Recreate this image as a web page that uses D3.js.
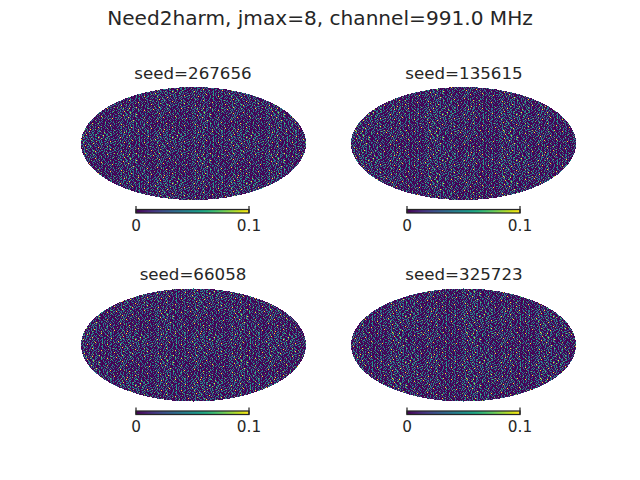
<!DOCTYPE html>
<html><head><meta charset="utf-8">
<script src="https://cdn.jsdelivr.net/npm/d3@7/dist/d3.min.js"></script>
<style>html,body{margin:0;background:#fff}svg{display:block}text{font-family:"DejaVu Sans";fill:#262626}</style>
</head><body><svg id="c" width="640" height="480"></svg>
<script>
const suptitle = "Need2harm, jmax=8, channel=991.0 MHz";
const seeds = [267656, 135615, 66058, 325723];
const colorDomain = [0, 0.1];
const colorTicks = [0, 0.1];
const tickLabels = ["0", "0.1"];
// NOTE: the map cells are NOT per-pixel readings of the reference. The swatches below were
// hand-typed to imitate the colour mix and grain seen in zoomed crops, then repeated as a
// mosaic across each map, and all four maps share them. Only texture and colour mix match.
// Each digit indexes digitValues.
const digitValues = [0, 0, 0.005, 0.03, 0.045, 0.055, 0.075, 0.085, 0.09, 0.1];
const swatchA = [
"0430510230904103100546002301040430300",
"3104026003200451014020300720025100501",
"0053204100530420103400120450300630042",
"1300430900204150460013302004500140320",
"0504301020453030400210049003300452010",
"3010703420001300450340005201064000203",
"2030140530406320010941014003520200510",
"0402530031040250410320730140504043001",
"3090102405030140351004102064003200340",
"4053034002106402103350410104042023000",
"0310450502100340270130400451020901046",
"1002702040415003021040530200620403502",
"5020430214000193040205010243030350004",
"0143000306320410304024060130401000352",
"1020509010342004100301420304105002030",
"4000310045063002530140320100703400100",
"3006040230140302010910305001400340025",
"0310042013503000240106030145204010603",
"0251030742000412030300210400503901040",
"4100340105020463014030450302100420045",
"0203040210430140920043010506012003300",
"1620053040102300432501104020304530010",
"2040109403002500140210043010340200372"];
const swatchB = [
"0502340710240910340030410520210464003",
"1034205403105001304020604120410201340",
"5020410320164010340210530400910301502",
"0140523090100340402100520103040162030",
"0304102205010473010230104002210405012",
"1060451003402060140520103040152010304",
"3010240310450204200494010302040410010",
"0153000903520430140320201045023010206",
"0214301040230150230630102040130204010",
"5040062030109402201043015010702104301",
"0230501240503040410012200430310052041",
"1504003106023040201050430106040213020",
"0200214003040200394010420300320401502",
"3014050310240106030320104052014030120",
"0160403020150430351040124030301902040",
"4210430102300403010064003021405010430",
"0103090510204250530140104203620403010",
"4003102040621040032040310204300150302",
"0240340710104041030230510310420100612",
"0501040232005109430103040163201410030",
"1020450103304010240410023052040130290",
"3040120403020650130032704010405020310",
"0104060230510300340102420301030640302"];
const swatchC = [
"1302502040610340104020910240150430300",
"5013042090305402010314020143010340102",
"0210450321203105040160302010710402305",
"0602100345013040420103351020240140420",
"3014030510240920032102010450103340010",
"0250130421300402203610140410302190300",
"1204905010460305014020341020140320104",
"0305014032102040130413050230600530402",
"5030220140510406010320150402103001420",
"1040602305003010920201340320510300062",
"0320405010324050130140060301402040300",
"2005013090310420301040202030910450103",
"0140300210104601020250140040103300240",
"0610430520203140010320540103062010305",
"1002063040130052300410040210104400120",
"4010230301040930104012043020210304631",
"0230510020420140230520120403060310104",
"1040210610305004320130902040101300510",
"0510340102010240130610320300510240103",
"0123040140610320302010250140103040092",
"3040090103300510240201300260140420210",
"1030402201304061040120130510240130031",
"0602140305012300104490102020030510420"];
const swatchD = [
"0253020430152064010302200410910430102",
"9010340510203240410125013030140120510",
"1305040206030205040130600230140312040",
"0210413020140530230020410050420103600",
"3020610240503010920140304010220405010",
"1045009030410020130502103400203100030",
"0510130402306013040060140302010620104",
"1002040505010254013200300140050320410",
"5030210340020300410130920203140020310",
"0410506030910240105020061040300120305",
"0201430302051020200310140520304409010",
"3006050140210040130230510020061040203",
"1040320410103300602201041003020510200",
"0320910240503010240050410130200140301",
"1040200060410102201043030060140302500",
"5010032010400930104702010240105012040",
"0020310500204010520300320140300130041",
"1600401302040610103040120500240903010",
"0210340300501030420103600140020310302",
"3005014020141030410920103004102050120",
"0130204600320302010240501040600130002",
"0400103050290140602300410200130040510",
"1030060240210530104040120410300210063"];
const mosaics = [
 [[swatchA,swatchC],[swatchD,swatchB]],
 [[swatchB,swatchD],[swatchA,swatchC]],
 [[swatchC,swatchA],[swatchB,swatchD]],
 [[swatchD,swatchB],[swatchC,swatchA]]];

const panels = [
 {cx:193.5, cy:143.5, tx:193, bar0:136},{cx:463.5, cy:143.5, tx:464, bar0:407},
 {cx:193.5, cy:345, tx:193, bar0:136},{cx:463.5, cy:345, tx:464, bar0:407}];
const rx = 112.5, ry = 56.5;

const svg = d3.select("#c");
svg.append("rect").attr("width",640).attr("height",480).attr("fill","#fff");
svg.append("text").attr("x",320).attr("y",25).attr("text-anchor","middle")
  .style("font-size","20.1px").text(suptitle);
const color = d3.scaleSequential(d3.interpolateViridis).domain(colorDomain);

panels.forEach((p,i)=>{
  const g = svg.append("g");
  g.append("text").attr("x",p.tx).attr("y",p.cy-65).attr("text-anchor","middle")
    .style("font-size","16.67px").text("seed="+seeds[i]);
  const mx = d3.scaleLinear().domain([-2,2]).range([p.cx-rx,p.cx+rx]);
  const my = d3.scaleLinear().domain([-1,1]).range([p.cy+ry,p.cy-ry]);
  const m = mosaics[i], rows = m[0][0].length, cols = m[0][0][0].length;
  const x0 = Math.floor(p.cx), y0 = Math.floor(p.cy);
  const paths = digitValues.map(()=>d3.path());
  for(let r=-58;r<58;r++) for(let c=-114;c<114;c++){
    const px = x0+c, py = y0+r;
    const X = mx.invert(px+.5), Y = my.invert(py+.5);
    if(X*X/4+Y*Y>1) continue;
    const R=r+58, C=c+114;
    const sw = m[Math.floor(R/rows)%2][Math.floor(C/cols)%2];
    paths[+sw[R%rows][C%cols]].rect(px,py,1,1);
  }
  g.append("g").attr("shape-rendering","crispEdges").selectAll("path").data(digitValues).join("path")
    .attr("d",(d,j)=>paths[j].toString()).attr("fill",d=>color(d));
  const bx = d3.scaleLinear().domain(colorDomain).range([p.bar0,p.bar0+113]);
  const barTop = p.cy+66, barBottom = p.cy+69.5;
  const barSteps = d3.range(0,113);
  g.append("g").attr("shape-rendering","crispEdges").selectAll("rect").data(barSteps).join("rect")
    .attr("x",d=>bx.range()[0]+d).attr("y",barTop).attr("width",1.2).attr("height",barBottom-barTop)
    .attr("fill",d=>color(bx.invert(bx.range()[0]+d+.5)));
  g.append("rect").attr("x",bx.range()[0]).attr("y",barTop).attr("width",bx.range()[1]-bx.range()[0])
    .attr("height",barBottom-barTop).attr("fill","none").attr("stroke","#262626").attr("stroke-width",1.25);
  const ax = d3.axisBottom(bx).offset(0).tickValues(colorTicks).tickFormat((d,j)=>tickLabels[j]).tickSizeInner(-7).tickSizeOuter(0).tickPadding(7);
  const axG = g.append("g").attr("transform",`translate(0,${barBottom})`).call(ax);
  axG.select(".domain").remove();
  axG.selectAll("line").attr("stroke","#262626").attr("stroke-width",1.25);
  axG.selectAll("text").style("font-size","15.3px").attr("fill","#262626");
});
</script></body></html>
